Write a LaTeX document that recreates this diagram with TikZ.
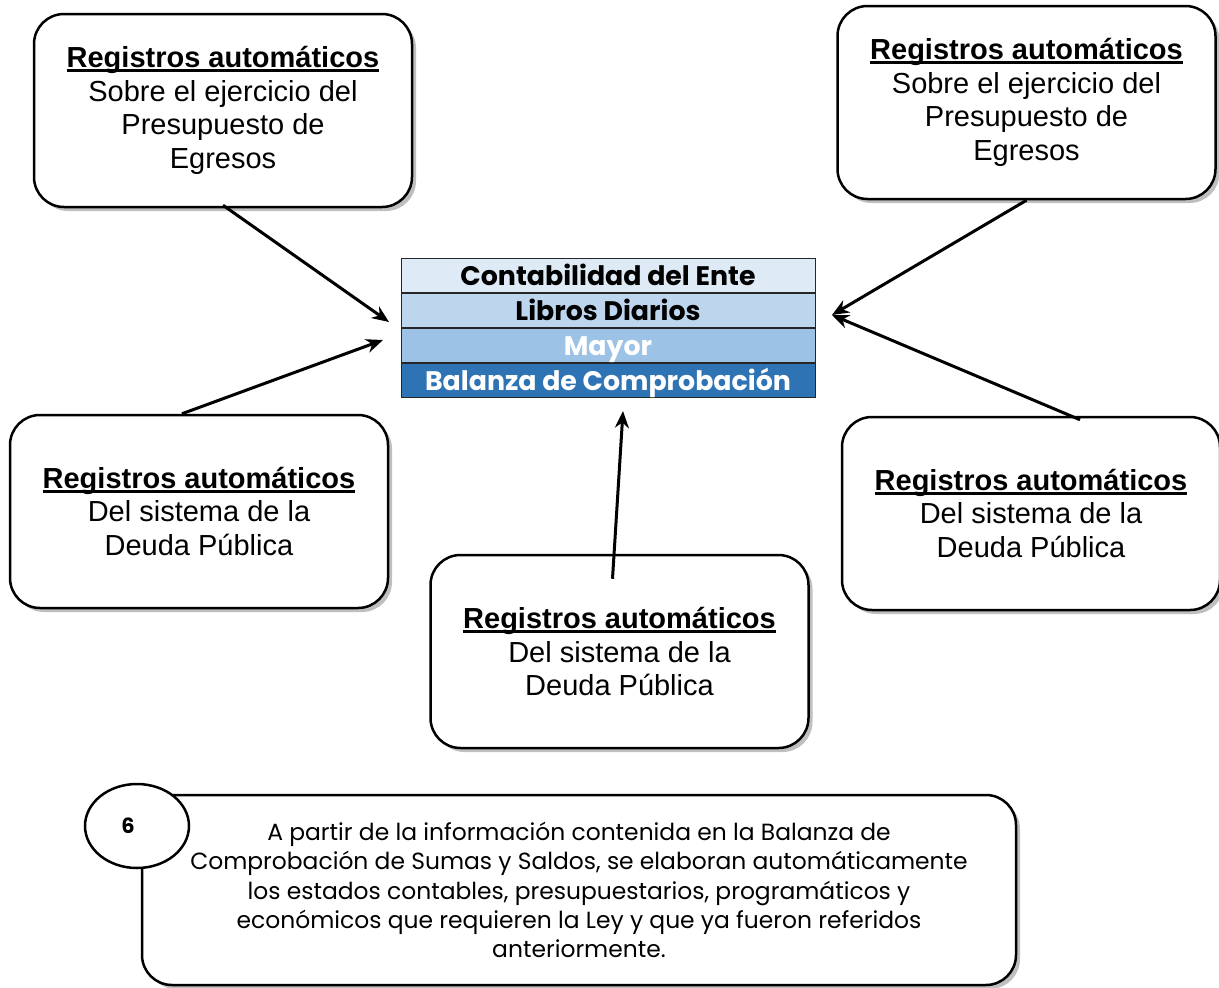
\documentclass[tikz,border=0pt]{standalone}
\usepackage{fontspec}
\setmainfont{Liberation Sans}
\newfontfamily\popp{Poppins}
\usetikzlibrary{shapes.geometric,shadows,arrows.meta}
\definecolor{rowA}{HTML}{DEEAF6}
\definecolor{rowB}{HTML}{BDD6EE}
\definecolor{rowC}{HTML}{9CC2E5}
\definecolor{rowD}{HTML}{2E74B5}
\newcommand\hdul[1]{\setbox0\hbox{#1}\rlap{\rule[-4.5pt]{\wd0}{2.6pt}}\box0}
\tikzset{
  shad/.style={drop shadow={shadow xshift=4pt,shadow yshift=-4pt,fill=black,opacity=.25}},
  regbox/.style={draw=black,line width=2.5pt,rounded corners=30pt,fill=white,shad,
    minimum width=378pt,minimum height=193pt,align=center,inner sep=0pt,
    font=\fontsize{29}{33.7}\selectfont},
  row/.style={draw=black!85,line width=1pt,minimum width=414pt,minimum height=34pt,
    text height=22pt,text depth=2pt,
    inner sep=0pt,font=\popp\bfseries\fontsize{26.8}{28}\selectfont},
  arr/.style={line width=3pt,-{Stealth[length=17pt,width=14pt]}},
}
\begin{document}
\begin{tikzpicture}[x=1pt,y=-1pt]
\useasboundingbox (0,0) rectangle (1219,988);
% boxes
\node[regbox] (b1) at (223,110.5) {\textbf{\hdul{Registros automáticos}}\\Sobre el ejercicio del\\Presupuesto de\\Egresos};
\node[regbox] (b2) at (1026.5,102.5) {\textbf{\hdul{Registros automáticos}}\\Sobre el ejercicio del\\Presupuesto de\\Egresos};
\node[regbox] (b3) at (199,511.5) {\textbf{\hdul{Registros automáticos}}\\Del sistema de la\\Deuda Pública};
\node[regbox] (b4) at (1031,513.5) {\textbf{\hdul{Registros automáticos}}\\Del sistema de la\\Deuda Pública};
\node[regbox] (b5) at (619.5,651.5) {\textbf{\hdul{Registros automáticos}}\\Del sistema de la\\Deuda Pública};
% central table
\node[row,fill=rowA,text=black] (t1) at (608,275) {Contabilidad del Ente};
\node[row,fill=rowB,text=black,anchor=north] (t2) at (t1.south) {Libros Diarios};
\node[row,fill=rowC,text=white,anchor=north] (t3) at (t2.south) {Mayor};
\node[row,fill=rowD,text=white,anchor=north] (t4) at (t3.south) {Balanza de Comprobación};
% arrow ends
\coordinate (e1) at (389,322);
\coordinate (e2) at (383,340);
\coordinate (e3) at (832,315);
\coordinate (e5) at (623,411);
\draw[arr] ([yshift=3pt]b1.south) -- (e1);
\draw[arr] ([xshift=-17pt]b3.north) -- (e2);
\draw[arr] (b2.south) -- (e3);
\draw[arr] ([xshift=49pt,yshift=-4pt]b4.north) -- (e3);
\draw[arr] ([xshift=-7pt,yshift=-25pt]b5.north) -- (e5);
% bottom box
\node[draw=black,line width=2.5pt,rounded corners=30pt,fill=white,shad,
  minimum width=874pt,minimum height=190pt,align=center,inner sep=0pt,
  font=\popp\fontsize{23.4}{29.2}\selectfont] (nb) at (579,890)
  {A partir de la información contenida en la Balanza de\\
   Comprobación de Sumas y Saldos, se elaboran automáticamente\\
   los estados contables, presupuestarios, programáticos y\\
   económicos que requieren la Ley y que ya fueron referidos\\
   anteriormente.};
\node[draw=black,line width=2.5pt,fill=white,ellipse,minimum width=104pt,minimum height=84pt,
  inner sep=0pt,font=\popp\bfseries\fontsize{21}{24}\selectfont] (c6) at (137,826) {6\hspace*{18pt}};
\end{tikzpicture}
\end{document}
